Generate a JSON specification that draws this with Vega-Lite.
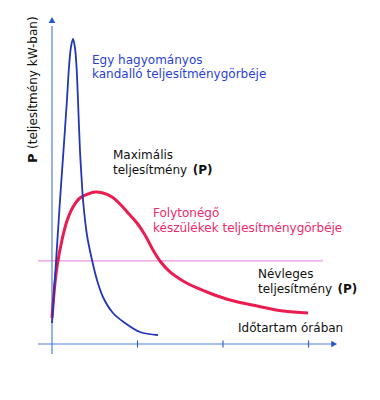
{
  "$schema": "https://vega.github.io/schema/vega-lite/v6.json",
  "width": 380,
  "height": 400,
  "autosize": {"type": "none"},
  "padding": 0,
  "background": "white",
  "config": {"view": {"stroke": null}},
  "datasets": {
    "blue": [
      {"x": 0, "y": 0.7}, {"x": 0.047, "y": 2.733}, {"x": 0.094, "y": 4.8}, {"x": 0.135, "y": 6.467},
      {"x": 0.175, "y": 8.133}, {"x": 0.199, "y": 9.233}, {"x": 0.222, "y": 9.9}, {"x": 0.246, "y": 10.167},
      {"x": 0.269, "y": 9.867}, {"x": 0.287, "y": 9.233}, {"x": 0.304, "y": 8.133}, {"x": 0.327, "y": 6.467},
      {"x": 0.351, "y": 5.3}, {"x": 0.363, "y": 4.8}, {"x": 0.409, "y": 3.633}, {"x": 0.468, "y": 2.8},
      {"x": 0.526, "y": 2.133}, {"x": 0.596, "y": 1.567}, {"x": 0.713, "y": 1.033}, {"x": 0.854, "y": 0.7},
      {"x": 1.029, "y": 0.4}, {"x": 1.24, "y": 0.3}
    ],
    "red": [
      {"x": 0, "y": 0.867}, {"x": 0.035, "y": 2.033}, {"x": 0.058, "y": 2.567}, {"x": 0.117, "y": 3.467},
      {"x": 0.175, "y": 4.1}, {"x": 0.246, "y": 4.567}, {"x": 0.327, "y": 4.867}, {"x": 0.421, "y": 5.0},
      {"x": 0.503, "y": 5.067}, {"x": 0.596, "y": 5.033}, {"x": 0.702, "y": 4.9}, {"x": 0.795, "y": 4.667},
      {"x": 0.889, "y": 4.367}, {"x": 0.994, "y": 4.033}, {"x": 1.088, "y": 3.633}, {"x": 1.181, "y": 3.133},
      {"x": 1.263, "y": 2.767}, {"x": 1.38, "y": 2.4}, {"x": 1.532, "y": 2.1}, {"x": 1.696, "y": 1.867},
      {"x": 1.871, "y": 1.667}, {"x": 2.082, "y": 1.467}, {"x": 2.398, "y": 1.267}, {"x": 2.702, "y": 1.1},
      {"x": 2.994, "y": 1.033}
    ],
    "axes": [
      {"name": "xaxis", "x": -0.164, "x2": 3.3, "y": 0, "y2": 0},
      {"name": "yaxis", "x": 0, "x2": 0, "y": -0.333, "y2": 10.6}
    ],
    "ticks": [
      {"x": 1, "y": -0.12, "y2": 0.12},
      {"x": 2, "y": -0.12, "y2": 0.12},
      {"x": 3, "y": -0.12, "y2": 0.12}
    ],
    "arrows": [
      {"dir": "up", "x": 0, "y": 10.8},
      {"dir": "right", "x": 3.3, "y": 0}
    ],
    "nominal": [
      {"x": -0.164, "x2": 3.17, "y": 2.77}
    ],
    "labels": [
      {"group": "blue", "bold": false, "text": "Egy hagyományos", "x": 0.468, "y": 9.47},
      {"group": "blue", "bold": false, "text": "kandalló teljesítménygörbéje", "x": 0.468, "y": 9.0},
      {"group": "black", "bold": false, "text": "Maximális", "x": 0.713, "y": 6.3},
      {"group": "black", "bold": false, "text": "teljesítmény", "x": 0.713, "y": 5.8},
      {"group": "black", "bold": true, "text": "(P)", "x": 1.645, "y": 5.8},
      {"group": "red", "bold": false, "text": "Folytonégő", "x": 1.181, "y": 4.37},
      {"group": "red", "bold": false, "text": "készülékek teljesítménygörbéje", "x": 1.181, "y": 3.87},
      {"group": "black", "bold": false, "text": "Névleges", "x": 2.409, "y": 2.33},
      {"group": "black", "bold": false, "text": "teljesítmény", "x": 2.409, "y": 1.83},
      {"group": "black", "bold": true, "text": "(P)", "x": 3.34, "y": 1.83},
      {"group": "black", "bold": false, "text": "Időtartam órában", "x": 2.175, "y": 0.53}
    ],
    "ytitle": [
      {"bold": true, "text": "P", "x": -0.222, "y": 6.03},
      {"bold": false, "text": "(teljesítmény kW-ban)", "x": -0.222, "y": 6.5}
    ]
  },
  "encoding": {
    "x": {"field": "x", "type": "quantitative", "scale": {"domain": [-0.608, 3.836], "zero": false, "nice": false}, "axis": null},
    "y": {"field": "y", "type": "quantitative", "scale": {"domain": [-1.867, 11.467], "zero": false, "nice": false}, "axis": null}
  },
  "layer": [
    {
      "data": {"name": "nominal"},
      "mark": {"type": "rule", "color": "#e87ae0", "strokeWidth": 1},
      "encoding": {"x2": {"field": "x2"}}
    },
    {
      "data": {"name": "axes"},
      "mark": {"type": "rule", "color": "#4f7fd8", "strokeWidth": 1.2},
      "encoding": {"x2": {"field": "x2"}, "y2": {"field": "y2"}}
    },
    {
      "data": {"name": "ticks"},
      "mark": {"type": "rule", "color": "#3a62c8", "strokeWidth": 1.2},
      "encoding": {"y2": {"field": "y2"}}
    },
    {
      "data": {"name": "arrows"},
      "transform": [{"filter": "datum.dir === 'up'"}],
      "mark": {"type": "point", "shape": "triangle-up", "filled": true, "color": "#2456d0", "size": 45, "opacity": 1}
    },
    {
      "data": {"name": "arrows"},
      "transform": [{"filter": "datum.dir === 'right'"}],
      "mark": {"type": "point", "shape": "triangle-right", "filled": true, "color": "#2456d0", "size": 45, "opacity": 1}
    },
    {
      "data": {"name": "red"},
      "mark": {"type": "line", "color": "#ea1c50", "strokeWidth": 3, "interpolate": "catmull-rom"}
    },
    {
      "data": {"name": "blue"},
      "mark": {"type": "line", "color": "#2236b8", "strokeWidth": 1.8, "interpolate": "catmull-rom"}
    },
    {
      "data": {"name": "labels"},
      "transform": [{"filter": "!datum.bold"}],
      "mark": {"type": "text", "align": "left", "baseline": "middle", "font": "DejaVu Sans", "fontSize": 12},
      "encoding": {
        "text": {"field": "text"},
        "color": {"field": "group", "type": "nominal", "scale": {"domain": ["blue", "black", "red"], "range": ["#2a3fd6", "#111111", "#ec2a6a"]}, "legend": null}
      }
    },
    {
      "data": {"name": "labels"},
      "transform": [{"filter": "datum.bold"}],
      "mark": {"type": "text", "align": "left", "baseline": "middle", "font": "DejaVu Sans", "fontSize": 12, "fontWeight": "bold", "color": "#111111"},
      "encoding": {"text": {"field": "text"}}
    },
    {
      "data": {"name": "ytitle"},
      "transform": [{"filter": "datum.bold"}],
      "mark": {"type": "text", "align": "left", "baseline": "middle", "angle": 270, "font": "DejaVu Sans", "fontSize": 13, "fontWeight": "bold", "color": "#111111"},
      "encoding": {"text": {"field": "text"}}
    },
    {
      "data": {"name": "ytitle"},
      "transform": [{"filter": "!datum.bold"}],
      "mark": {"type": "text", "align": "left", "baseline": "middle", "angle": 270, "font": "DejaVu Sans", "fontSize": 12, "color": "#111111"},
      "encoding": {"text": {"field": "text"}}
    }
  ]
}
